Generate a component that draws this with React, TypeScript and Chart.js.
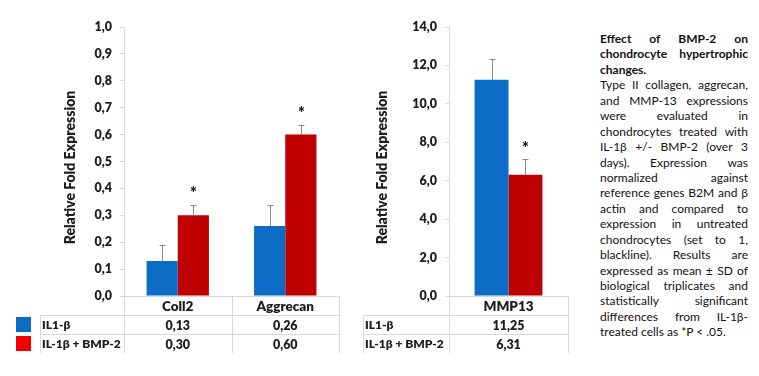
import React, { useEffect, useRef } from 'react';
import { Chart, registerables } from 'chart.js';

Chart.register(...registerables);

// ---------- data ----------
const seriesNames = ['IL1-β', 'IL-1β + BMP-2'];

const categoriesLeft = ['Coll2', 'Aggrecan'];
const il1Left = [0.13, 0.26];
const bmpLeft = [0.3, 0.6];
const il1SdLeft = [0.06, 0.08];
const bmpSdLeft = [0.04, 0.035];
const il1SigLeft = [false, false];
const bmpSigLeft = [true, true];
const yMaxLeft = 1;
const yStepLeft = 0.1;

const categoriesRight = ['MMP13'];
const il1Right = [11.25];
const bmpRight = [6.31];
const il1SdRight = [1.1];
const bmpSdRight = [0.8];
const il1SigRight = [false];
const bmpSigRight = [true];
const yMaxRight = 14;
const yStepRight = 2;

const yTitle = 'Relative Fold Expression';

const captionTitle = ['Effect of BMP-2 on', 'chondrocyte hypertrophic', 'changes.'];
const captionBody = [
  'Type II collagen, aggrecan,',
  'and MMP-13 expressions',
  'were evaluated in',
  'chondrocytes treated with',
  'IL-1β +/- BMP-2 (over 3',
  'days). Expression was',
  'normalized against',
  'reference genes B2M and β',
  'actin and compared to',
  'expression in untreated',
  'chondrocytes (set to 1,',
  'blackline). Results are',
  'expressed as mean ± SD of',
  'biological triplicates and',
  'statistically significant',
  'differences from IL-1β-',
  'treated cells as *P < .05.',
];

// ---------- styles ----------
const BLUE = '#0a6cc4';
const RED = '#c00000';
const LEGEND_RED = '#f00000';
const LINE = '#d9d9d9';
const TEXT = '#1e1e1e';
const FONT = 'Lato, "Open Sans", sans-serif';
const W = '800';

const fmt = (v: number, d: number) => v.toFixed(d).replace('.', ',');

const overlayPlugin = {
  id: 'overlay',
  afterDatasetsDraw(chart: any) {
    const ctx = chart.ctx;
    const y = chart.scales.y;
    ctx.save();
    chart.data.datasets.forEach((ds: any, di: number) => {
      const meta = chart.getDatasetMeta(di);
      meta.data.forEach((bar: any, i: number) => {
        const v = ds.data[i];
        const sd = ds.sd[i];
        const base = y.getPixelForValue(v);
        const top = y.getPixelForValue(v + sd);
        const bx = Math.round(bar.x) + 0.5;
        ctx.strokeStyle = '#8a8a8a';
        ctx.lineWidth = 1;
        ctx.beginPath();
        ctx.moveTo(bx, base);
        ctx.lineTo(bx, Math.round(top) + 0.5);
        ctx.moveTo(bx - 3, Math.round(top) + 0.5);
        ctx.lineTo(bx + 3, Math.round(top) + 0.5);
        ctx.stroke();
        if (ds.sig[i]) {
          ctx.fillStyle = TEXT;
          ctx.font = `${W} 16px ${FONT}`;
          ctx.textAlign = 'center';
          ctx.textBaseline = 'middle';
          ctx.fillText('*', bx, top - 11);
        }
      });
    });
    ctx.restore();
  },
  afterDraw(chart: any, _args: any, opts: any) {
    const ctx = chart.ctx;
    const area = chart.chartArea;
    const n = chart.data.labels.length;
    const catW = (area.right - area.left) / n;
    const rowH = 19;
    const r0 = Math.round(area.bottom);
    const r1 = r0 + rowH;
    const r2 = r1 + rowH;
    const bottom = r2 + rowH;
    const tl = opts.tableLeft;
    ctx.save();
    ctx.strokeStyle = LINE;
    ctx.lineWidth = 1;
    ctx.beginPath();
    ctx.moveTo(area.left, r0 + 0.5);
    ctx.lineTo(area.right, r0 + 0.5);
    ctx.moveTo(tl, r1 + 0.5);
    ctx.lineTo(area.right, r1 + 0.5);
    ctx.moveTo(tl, r2 + 0.5);
    ctx.lineTo(area.right, r2 + 0.5);
    ctx.moveTo(tl + 0.5, r1);
    ctx.lineTo(tl + 0.5, bottom);
    for (let i = 0; i <= n; i++) {
      const bx = Math.round(area.left + i * catW) + 0.5;
      ctx.moveTo(bx, r0);
      ctx.lineTo(bx, bottom);
    }
    ctx.stroke();

    ctx.fillStyle = TEXT;
    ctx.textBaseline = 'middle';
    ctx.textAlign = 'center';
    for (let i = 0; i < n; i++) {
      const cx = area.left + (i + 0.5) * catW;
      ctx.font = `${W} 13.5px ${FONT}`;
      ctx.fillText(chart.data.labels[i], cx, r0 + rowH / 2 + 1);
      ctx.font = `${W} 12.5px ${FONT}`;
      chart.data.datasets.forEach((ds: any, di: number) => {
        ctx.fillText(fmt(ds.data[i], 2), cx, r1 + di * rowH + rowH / 2 + 1);
      });
    }
    ctx.textAlign = 'left';
    ctx.font = `${W} 12px ${FONT}`;
    chart.data.datasets.forEach((ds: any, di: number) => {
      ctx.fillStyle = TEXT;
      ctx.fillText(ds.label, tl + 2, r1 + di * rowH + rowH / 2 + 1);
      if (opts.legend) {
        ctx.fillStyle = ds.legendColor;
        ctx.fillRect(opts.legendX, r1 + di * rowH + 2, 15, 15);
      }
    });

    // axis title
    ctx.fillStyle = TEXT;
    ctx.font = `${W} 14px ${FONT}`;
    ctx.textAlign = 'center';
    ctx.textBaseline = 'middle';
    ctx.translate(area.left - opts.titleOffset, (area.top + area.bottom) / 2 + opts.titleShift);
    ctx.rotate(-Math.PI / 2);
    ctx.fillText(yTitle, 0, 0);
    ctx.restore();
  },
};

function makeConfig(
  labels: string[],
  a: number[],
  b: number[],
  sdA: number[],
  sdB: number[],
  sigA: boolean[],
  sigB: boolean[],
  yMax: number,
  yStep: number,
  axisWidth: number,
  padRight: number,
  catPct: number,
  overlay: any
): any {
  return {
    type: 'bar',
    data: {
      labels,
      datasets: [
        { label: seriesNames[0], data: a, sd: sdA, sig: sigA, backgroundColor: BLUE, legendColor: BLUE },
        { label: seriesNames[1], data: b, sd: sdB, sig: sigB, backgroundColor: RED, legendColor: LEGEND_RED },
      ],
    },
    options: {
      responsive: false,
      animation: false,
      layout: { padding: { left: 0, right: padRight, top: 27, bottom: 80 } },
      datasets: { bar: { categoryPercentage: catPct, barPercentage: 1 } },
      plugins: {
        legend: { display: false },
        tooltip: { enabled: false },
        overlay,
      },
      scales: {
        x: { display: false },
        y: {
          min: 0,
          max: yMax,
          afterFit: (s: any) => {
            s.width = axisWidth;
          },
          ticks: {
            stepSize: yStep,
            padding: 8,
            color: TEXT,
            font: { family: FONT, size: 12.5, weight: W },
            callback: (v: any) => fmt(Number(v), 1),
          },
          grid: { drawOnChartArea: false, drawTicks: true, tickLength: 4, tickColor: LINE },
          border: { color: LINE, width: 1 },
        },
      },
    },
    plugins: [overlayPlugin],
  };
}

function ChartCanvas({ config, width, height, left }: any) {
  const ref = useRef<HTMLCanvasElement>(null);
  useEffect(() => {
    const chart = new Chart(ref.current as HTMLCanvasElement, config);
    return () => chart.destroy();
  }, []);
  return (
    <canvas
      ref={ref}
      width={width}
      height={height}
      style={{ position: 'absolute', left, top: 0, width, height }}
    />
  );
}

function JustLine({ text, last }: { text: string; last?: boolean }) {
  const words = text.split(' ');
  if (last) {
    return <div style={{ whiteSpace: 'nowrap', height: 15.45 }}>{text}</div>;
  }
  return (
    <div style={{ display: 'flex', justifyContent: 'space-between', whiteSpace: 'nowrap', height: 15.45 }}>
      {words.map((w, i) => (
        <span key={i}>{w}</span>
      ))}
    </div>
  );
}

export default function App() {
  const leftCfg = makeConfig(
    categoriesLeft, il1Left, bmpLeft, il1SdLeft, bmpSdLeft, il1SigLeft, bmpSigLeft,
    yMaxLeft, yStepLeft, 124, 11, 0.58,
    { tableLeft: 40, legend: true, legendX: 16, titleOffset: 54, titleShift: 6 }
  );
  const rightCfg = makeConfig(
    categoriesRight, il1Right, bmpRight, il1SdRight, bmpSdRight, il1SigRight, bmpSigRight,
    yMaxRight, yStepRight, 94, 7, 0.57,
    { tableLeft: 8, legend: false, legendX: 0, titleOffset: 67, titleShift: 6 }
  );
  return (
    <div style={{ position: 'absolute', left: 0, top: 0, width: 759, height: 376, background: '#fff', overflow: 'hidden' }}>
      <ChartCanvas config={leftCfg} width={350} height={376} left={0} />
      <ChartCanvas config={rightCfg} width={220} height={376} left={355} />
      <div
        style={{
          position: 'absolute',
          left: 600,
          top: 31,
          width: 148,
          fontFamily: FONT,
          fontSize: 12,
          lineHeight: '15.45px',
          color: '#111',
        }}
      >
        <div style={{ fontWeight: 'bold' }}>
          {captionTitle.map((t, i) => (
            <JustLine key={i} text={t} last={i === captionTitle.length - 1} />
          ))}
        </div>
        <div>
          {captionBody.map((t, i) => (
            <JustLine key={i} text={t} last={i === captionBody.length - 1} />
          ))}
        </div>
      </div>
    </div>
  );
}
